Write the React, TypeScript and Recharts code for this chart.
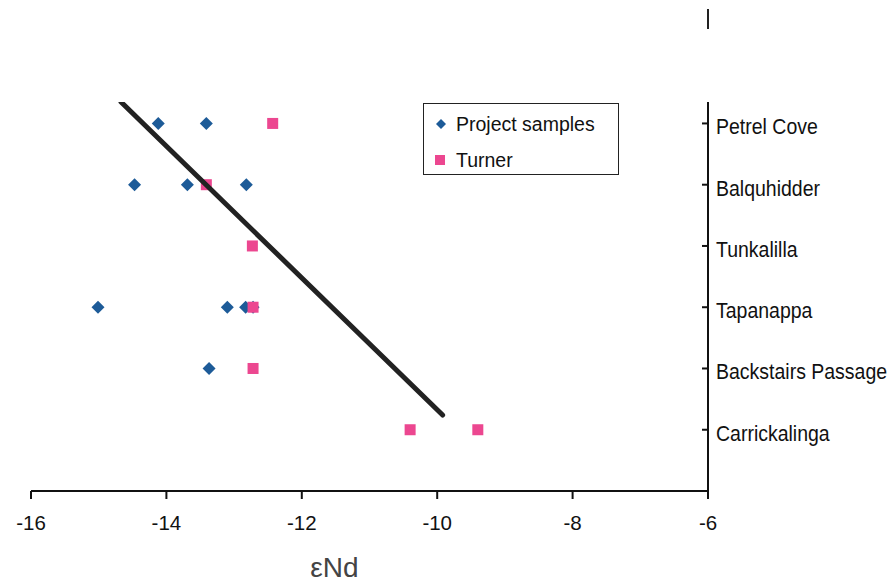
import React from 'react';
import { ScatterChart, Scatter, XAxis, YAxis, Legend } from 'recharts';

// Sampling sites, bottom to top on the right-hand axis (position = index + 1)
const sites = ['Carrickalinga', 'Backstairs Passage', 'Tapanappa', 'Tunkalilla', 'Balquhidder', 'Petrel Cove'];

// Project samples: site and εNd value
const projectSite = ['Petrel Cove', 'Petrel Cove', 'Balquhidder', 'Balquhidder', 'Balquhidder', 'Tapanappa', 'Tapanappa', 'Tapanappa', 'Tapanappa', 'Backstairs Passage'];
const projectEnd = [-14.12, -13.41, -14.47, -13.69, -12.82, -15.01, -13.1, -12.83, -12.72, -13.37];

// Turner data: site and εNd value
const turnerSite = ['Petrel Cove', 'Balquhidder', 'Tunkalilla', 'Tapanappa', 'Backstairs Passage', 'Carrickalinga', 'Carrickalinga'];
const turnerEnd = [-12.43, -13.41, -12.73, -12.72, -12.72, -10.4, -9.4];

// Trend line end points (εNd, site position)
const trendEnd = [-14.67, -9.92];
const trendPos = [6.35, 1.24];

const xTicks = [-16, -14, -12, -10, -8, -6];
const yTicks = [1, 2, 3, 4, 5, 6];

const BLUE = '#1d5b98';
const PINK = '#ec4790';
const FONT = '"Liberation Sans", Arial, sans-serif';

const siteY = (name: string) => sites.indexOf(name) + 1;

const projectData = projectEnd.map((v, i) => ({ x: v, y: siteY(projectSite[i]) }));
const turnerData = turnerEnd.map((v, i) => ({ x: v, y: siteY(turnerSite[i]) }));
const trendData = trendEnd.map((v, i) => ({ x: v, y: trendPos[i] }));

const Diamond = (props: any) => {
  const { cx, cy } = props;
  const r = 6.5;
  return <polygon points={`${cx},${cy - r} ${cx + r},${cy} ${cx},${cy + r} ${cx - r},${cy}`} fill={BLUE} />;
};

const Square = (props: any) => {
  const { cx, cy } = props;
  const s = 11;
  return <rect x={cx - s / 2} y={cy - s / 2} width={s} height={s} fill={PINK} />;
};

const NoMarker = () => <g />;

const SiteTick = (props: any) => {
  const { x, y, payload } = props;
  return (
    <g>
      <line x1={x - 6} x2={x} y1={y} y2={y} stroke="#111" strokeWidth={2} />
      <text x={x + 8} y={y + 10} fontSize={19.5} fontFamily={FONT} fill="#111" transform={`translate(0 ${y}) scale(1 1.1) translate(0 ${-y})`}>
        {sites[payload.value - 1]}
      </text>
    </g>
  );
};

const LegendBox = () => (
  <div
    style={{
      width: 196,
      height: 72,
      border: '1.5px solid #222',
      background: '#fff',
      fontFamily: FONT,
      fontSize: 19.5,
      color: '#111',
      boxSizing: 'border-box',
      paddingTop: 8,
      paddingLeft: 10,
      textAlign: 'left',
    }}
  >
    <div style={{ display: 'flex', alignItems: 'center', height: 24 }}>
      <svg width={16} height={16} style={{ marginRight: 6 }}>
        <polygon points="6,1 11,6 6,11 1,6" fill={BLUE} transform="translate(1,2)" />
      </svg>
      <span>Project samples</span>
    </div>
    <div style={{ display: 'flex', alignItems: 'center', height: 24, marginTop: 12 }}>
      <svg width={16} height={16} style={{ marginRight: 6 }}>
        <rect x={1} y={3} width={10} height={10} fill={PINK} />
      </svg>
      <span>Turner</span>
    </div>
  </div>
);

export default function App() {
  return (
    <div style={{ position: 'absolute', left: 0, top: 0, width: 894, height: 588, background: '#fff' }}>
      <div style={{ position: 'absolute', left: 707, top: 9, width: 2, height: 20, background: '#222' }} />
      <ScatterChart width={894} height={588} margin={{ top: 102, right: 0, bottom: 7, left: 31 }}>
        <XAxis
          type="number"
          dataKey="x"
          domain={[-16, -6]}
          ticks={xTicks}
          allowDataOverflow
          height={90}
          tickSize={8}
          tickMargin={16}
          stroke="#111"
          strokeWidth={2}
          tick={{ fontSize: 20.5, fontFamily: FONT, fill: '#111' }}
          label={{
            value: 'εNd',
            position: 'insideBottom',
            offset: 4,
            dx: -35,
            fontSize: 28,
            fontFamily: FONT,
            fill: '#444',
          }}
        />
        <YAxis
          type="number"
          dataKey="y"
          orientation="right"
          domain={[0, 6.35]}
          ticks={yTicks}
          allowDataOverflow
          width={186}
          tickLine={false}
          tickSize={0}
          tickMargin={0}
          stroke="#111"
          strokeWidth={2}
          tick={<SiteTick />}
        />
        <Legend
          layout="horizontal"
          verticalAlign="middle"
          align="center"
          content={<LegendBox />}
          wrapperStyle={{ left: 423, top: 103, width: 196, height: 72 }}
        />
        <Scatter name="Project samples" data={projectData} fill={BLUE} shape={<Diamond />} isAnimationActive={false} />
        <Scatter name="Turner" data={turnerData} fill={PINK} shape={<Square />} isAnimationActive={false} />
        <Scatter
          name="Trend"
          data={trendData}
          fill="#222"
          line={{ stroke: '#222', strokeWidth: 5, strokeLinecap: 'round' }}
          shape={<NoMarker />}
          legendType="none"
          isAnimationActive={false}
        />
      </ScatterChart>
    </div>
  );
}
